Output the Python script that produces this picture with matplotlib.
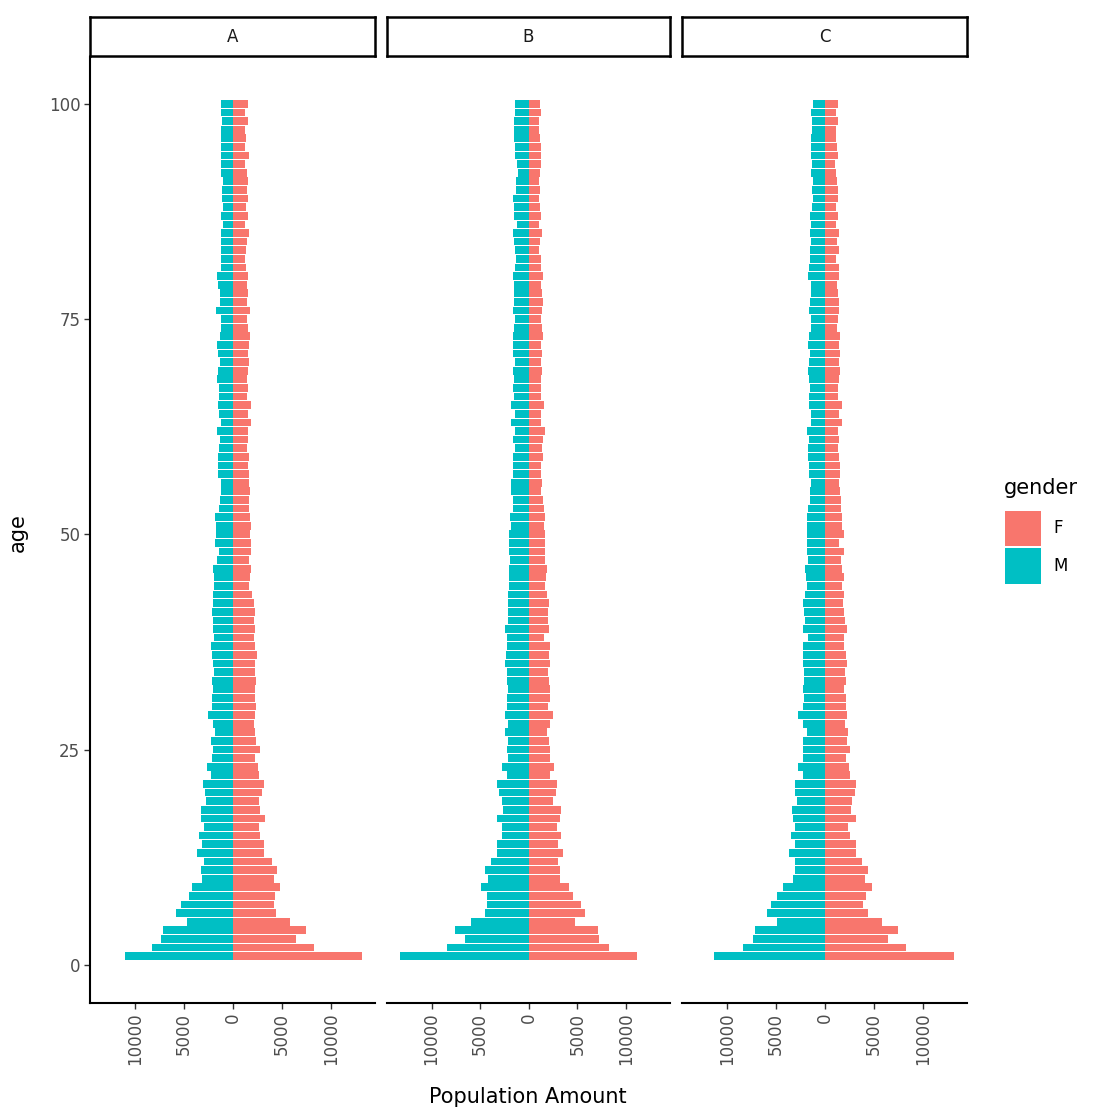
import matplotlib
matplotlib.use("Agg")
import matplotlib.pyplot as plt
from matplotlib.patches import Rectangle
from matplotlib.ticker import FixedLocator, FuncFormatter

# ---------------------------------------------------------------- data
ages = list(range(1, 101))
regions = ["A", "B", "C"]
genders = ["F", "M"]

male_A = [11050, 8230, 7380, 7140, 4730, 5780, 5340, 4490, 4150, 3130,
          3300, 2960, 3640, 3130, 3470, 2960, 3300, 3300, 2790, 2860,
          3030, 2280, 2620, 2110, 2040, 2280, 1840, 2040, 2520, 2110,
          2110, 2040, 2110, 1940, 2040, 2110, 2180, 1940, 2040, 2040,
          2110, 2000, 2040, 1940, 1940, 2040, 1600, 1430, 1840, 1770,
          1700, 1840, 1430, 1330, 1260, 1260, 1500, 1560, 1500, 1430,
          1360, 1600, 1260, 1430, 1500, 1430, 1430, 1600, 1500, 1360,
          1500, 1600, 1360, 1260, 1260, 1700, 1360, 1360, 1500, 1600,
          1260, 1260, 1160, 1160, 1260, 1020, 1260, 1020, 1090, 1090,
          1020, 1160, 1260, 1260, 1260, 1260, 1260, 1090, 1260, 1260]
female_A = [13190, 8260, 6460, 7480, 5880, 4420, 4200, 4350, 4860, 4200,
            4460, 4010, 3180, 3180, 2820, 2650, 3330, 2820, 2650, 2990,
            3150, 2650, 2550, 2310, 2820, 2380, 2310, 2210, 2310, 2380,
            2310, 2310, 2380, 2240, 2310, 2480, 2240, 2140, 2310, 2140,
            2240, 2140, 2000, 1630, 1800, 1900, 1700, 1900, 1900, 1800,
            1900, 1800, 1700, 1630, 1800, 1630, 1700, 1560, 1630, 1460,
            1560, 1560, 1900, 1560, 1900, 1460, 1560, 1460, 1560, 1630,
            1560, 1700, 1800, 1560, 1460, 1800, 1460, 1560, 1460, 1560,
            1360, 1220, 1360, 1460, 1630, 1220, 1560, 1360, 1560, 1460,
            1560, 1460, 1220, 1630, 1220, 1360, 1290, 1560, 1220, 1560]

male_B = [13260, 8400, 6600, 7550, 5920, 4490, 4320, 4320, 4900, 4150,
          4490, 3880, 3300, 3300, 2720, 2720, 3300, 2620, 2790, 3060,
          3300, 2280, 2720, 2110, 2280, 2110, 2450, 2110, 2450, 2280,
          2280, 2180, 2280, 2280, 2450, 2380, 2280, 2280, 2450, 2180,
          2180, 2180, 2180, 2040, 2040, 2040, 1940, 2040, 2040, 2040,
          1840, 1940, 1600, 1600, 1840, 1840, 1600, 1600, 1600, 1430,
          1600, 1430, 1840, 1430, 1840, 1500, 1600, 1500, 1600, 1430,
          1600, 1600, 1600, 1500, 1430, 1600, 1500, 1500, 1500, 1600,
          1430, 1360, 1430, 1500, 1600, 1260, 1500, 1500, 1600, 1360,
          1360, 1160, 1260, 1430, 1430, 1500, 1500, 1500, 1430, 1430]
female_B = [11150, 8260, 7240, 7070, 4760, 5780, 5370, 4520, 4180, 3160,
            3160, 2990, 3500, 2990, 3330, 2920, 3160, 3330, 2480, 2820,
            2920, 2140, 2580, 2140, 2140, 2040, 1900, 2140, 2480, 1970,
            2140, 2140, 2040, 1970, 2140, 2040, 2140, 1560, 2040, 1970,
            1970, 2040, 1900, 1700, 1800, 1900, 1700, 1630, 1700, 1700,
            1560, 1700, 1560, 1460, 1290, 1360, 1290, 1290, 1460, 1360,
            1460, 1700, 1220, 1290, 1560, 1220, 1290, 1220, 1360, 1290,
            1360, 1290, 1460, 1360, 1290, 1360, 1460, 1360, 1290, 1460,
            1290, 1220, 1020, 1120, 1360, 1020, 1290, 1120, 1020, 1120,
            1020, 1120, 1220, 1290, 1220, 1120, 1020, 1020, 1220, 1120]

male_C = [11290, 8330, 7380, 7140, 4930, 5880, 5540, 4930, 4320, 3230,
          3060, 3060, 3640, 3060, 3500, 3060, 3300, 3400, 2820, 3060,
          3060, 2280, 2720, 2210, 2210, 2280, 1870, 2280, 2720, 2280,
          2140, 2210, 2140, 2140, 2210, 2280, 2280, 1700, 2210, 2040,
          2140, 2210, 2040, 1870, 1940, 2040, 1700, 1870, 1870, 1870,
          1870, 1870, 1700, 1530, 1530, 1460, 1600, 1600, 1700, 1700,
          1600, 1870, 1460, 1460, 1600, 1600, 1530, 1600, 1700, 1600,
          1530, 1700, 1600, 1460, 1460, 1600, 1530, 1460, 1460, 1700,
          1600, 1530, 1530, 1460, 1530, 1460, 1530, 1360, 1190, 1360,
          1190, 1460, 1360, 1460, 1460, 1460, 1360, 1360, 1460, 1190]
female_C = [13160, 8260, 6460, 7480, 5850, 4420, 3910, 4180, 4860, 4080,
            4420, 3840, 3160, 3160, 2550, 2380, 3160, 2620, 2820, 3060,
            3160, 2550, 2480, 2140, 2550, 2280, 2380, 2040, 2280, 2210,
            2140, 1940, 2140, 2040, 2280, 2210, 1940, 1940, 2280, 2040,
            1940, 1870, 1940, 1800, 1940, 1800, 1600, 1940, 1460, 1940,
            1800, 1800, 1700, 1600, 1530, 1460, 1530, 1530, 1460, 1360,
            1460, 1360, 1800, 1460, 1800, 1360, 1360, 1460, 1530, 1460,
            1530, 1460, 1530, 1260, 1360, 1460, 1460, 1360, 1260, 1460,
            1460, 1120, 1460, 1260, 1460, 1190, 1360, 1120, 1360, 1360,
            1260, 1190, 1020, 1360, 1260, 1190, 1120, 1360, 1190, 1360]

male_by_region = [male_A, male_B, male_C]
female_by_region = [female_A, female_B, female_C]

x_ticks = [-10000, -5000, 0, 5000, 10000]
y_ticks = [0, 25, 50, 75, 100]

# ---------------------------------------------------------------- style
F_COLOR = "#F8766D"
M_COLOR = "#00BFC4"
TICK_TXT = "#4D4D4D"
TICK_COL = "#333333"
plt.rcParams["font.family"] = ["DejaVu Sans"]

W, H = 1093, 1111
fig = plt.figure(figsize=(W / 100, H / 100), dpi=100)


def box(x0, y0, x1, y1):
    """Axes rectangle from pixel edges measured from the top-left corner."""
    return [x0 / W, 1 - y1 / H, (x1 - x0) / W, (y1 - y0) / H]


panel_x = [(90, 375), (387, 670), (682, 967)]
panel_top, panel_bottom = 57, 1003
strip_top, strip_bottom = 17, 56

# shared scales, expanded by 5% like ggplot
bar_h = 0.9
lo = -max(max(m) for m in male_by_region)
hi = max(max(f) for f in female_by_region)
pad = 0.05 * (hi - lo)
xlim = (lo - pad, hi + pad)
y0, y1 = min(ages) - bar_h / 2, max(ages) + bar_h / 2
ypad = 0.05 * (y1 - y0)
ylim = (y0 - ypad, y1 + ypad)

for i, (region, males, females) in enumerate(zip(regions, male_by_region, female_by_region)):
    xa, xb = panel_x[i]
    ax = fig.add_axes(box(xa, panel_top, xb, panel_bottom))
    ax.barh(ages, [-v for v in males], height=bar_h, color=M_COLOR, linewidth=0)
    ax.barh(ages, females, height=bar_h, color=F_COLOR, linewidth=0)
    ax.set_xlim(*xlim)
    ax.set_ylim(*ylim)

    for side in ("top", "right"):
        ax.spines[side].set_visible(False)
    ax.spines["bottom"].set_linewidth(1.5)
    ax.spines["bottom"].set_color("black")

    ax.xaxis.set_major_locator(FixedLocator(x_ticks))
    ax.xaxis.set_major_formatter(FuncFormatter(lambda v, p: f"{abs(int(v))}"))
    ax.tick_params(axis="x", length=4, width=1, color=TICK_COL, pad=3,
                   labelsize=12, labelcolor=TICK_TXT, labelrotation=90)

    if i == 0:
        ax.spines["left"].set_linewidth(1.5)
        ax.spines["left"].set_color("black")
        ax.yaxis.set_major_locator(FixedLocator(y_ticks))
        ax.tick_params(axis="y", length=4, width=1, color=TICK_COL, pad=3,
                       labelsize=12, labelcolor=TICK_TXT)
    else:
        ax.spines["left"].set_visible(False)
        ax.set_yticks([])

    # facet strip
    sax = fig.add_axes(box(xa, strip_top, xb, strip_bottom))
    sax.set_xticks([])
    sax.set_yticks([])
    for sp in sax.spines.values():
        sp.set_linewidth(1.8)
        sp.set_color("black")
    sax.text(0.5, 0.5, region, ha="center", va="center", fontsize=12,
             color="#1A1A1A", transform=sax.transAxes)

# axis titles
fig.text(18 / W, 1 - 533 / H, "age", rotation=90, ha="center", va="center",
         fontsize=15, color="black")
fig.text(528 / W, 1 - 1097 / H, "Population Amount", ha="center", va="center",
         fontsize=15, color="black")

# legend
fig.text(1004 / W, 1 - 488 / H, "gender", ha="left", va="center",
         fontsize=15, color="black")
legend_rows = [(genders[0], F_COLOR, 511, 546), (genders[1], M_COLOR, 548, 584)]
for label, color, ya, yb in legend_rows:
    fig.add_artist(Rectangle((1005 / W, 1 - yb / H), 36 / W, (yb - ya) / H,
                             transform=fig.transFigure, facecolor=color,
                             edgecolor="none"))
    fig.text(1053 / W, 1 - (ya + yb) / 2 / H, label, ha="left", va="center",
             fontsize=12, color="black")

fig.savefig("out.png", dpi=100, facecolor="white")
